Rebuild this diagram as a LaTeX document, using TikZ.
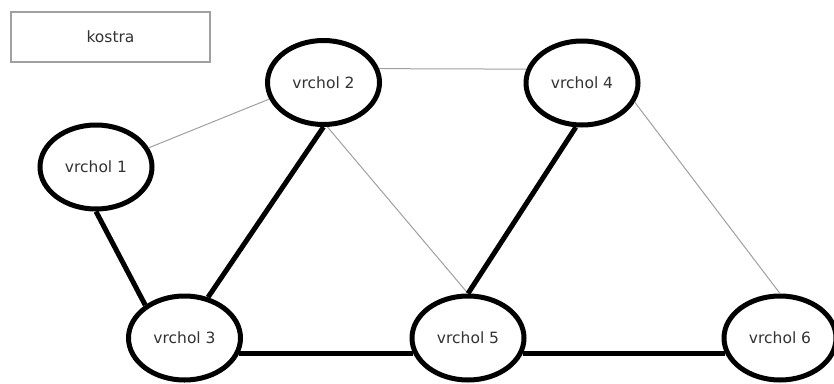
\documentclass[tikz,border=0pt]{standalone}
\usepackage{fontspec}
\setmainfont{DejaVu Sans}
\usetikzlibrary{shapes.geometric}
\definecolor{txt}{HTML}{333333}
\definecolor{thinedge}{HTML}{A0A0A0}
\definecolor{boxline}{HTML}{A0A0A0}
\begin{document}
\begin{tikzpicture}[x=1pt,y=-1pt,
  vertex/.style={ellipse,draw=black,line width=5pt,fill=white,
    minimum width=112pt,minimum height=84pt,inner sep=0pt,
    text=txt,font=\fontsize{15.5}{18}\selectfont},
  legend/.style={rectangle,draw=boxline,line width=1.2pt,
    minimum width=199pt,minimum height=50pt,inner sep=0pt,
    text=txt,font=\fontsize{15.5}{18}\selectfont},
  tree/.style={line width=5pt,black},
  other/.style={line width=1pt,thinedge}]
\useasboundingbox (0,0) rectangle (834,383);
\clip (0,0) rectangle (834,383);
\fill[white] (0,0) rectangle (834,383);

\node[legend] (legend) at (110.5,37) {kostra};

\node[vertex] (v1) at (96,167)    {vrchol 1};
\node[vertex] (v2) at (323.5,82.5) {vrchol 2};
\node[vertex] (v4) at (582,83)    {vrchol 4};
\node[vertex] (v3) at (184.5,338) {vrchol 3};
\node[vertex] (v5) at (468,338)   {vrchol 5};
\node[vertex] (v6) at (780,338)   {vrchol 6};

% edges outside the spanning tree
\draw[other] (v1.20) -- (v2.197);
\draw[other] (v2.14) -- (v4.166);
\draw[other] (v2.275) -- (v5.north);
\draw[other] (v4.340) -- (v6.north);

% spanning tree edges
\draw[tree] (v1.south) -- (v3.140);
\draw[tree] (v2.south) -- (v3.60);
\draw[tree] (v4.262) -- (v5.north);
\draw[tree] (v3.344) -- (v5.196);
\draw[tree] (v5.344) -- (v6.196);
\end{tikzpicture}
\end{document}
